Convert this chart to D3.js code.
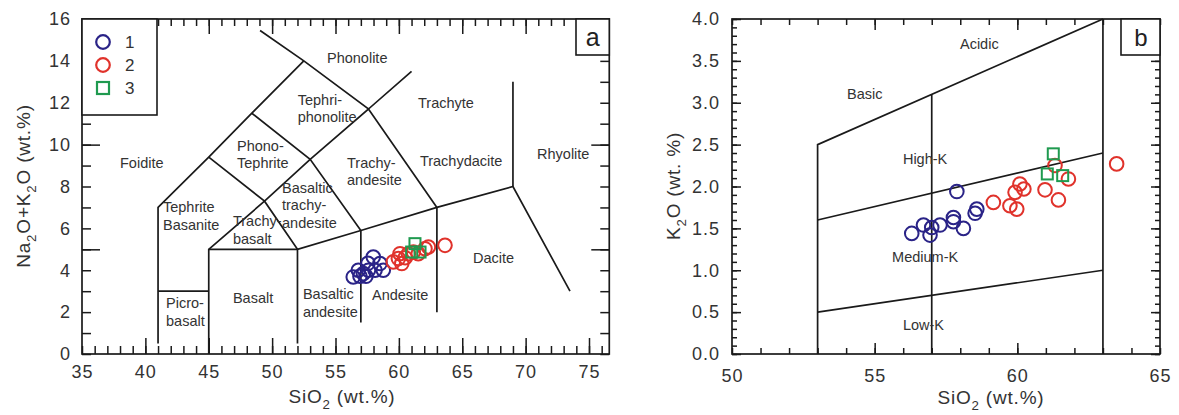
<!DOCTYPE html>
<html>
<head>
<meta charset="utf-8">
<script src="https://cdn.jsdelivr.net/npm/d3@7"></script>
<style>
  body { margin: 0; background: #fff; }
  svg { display: block; font-family: "Liberation Sans", Arial, sans-serif; }
</style>
</head>
<body>
<svg id="chart" width="1179" height="415"></svg>
<script>
// ---- data ----
// panel a: TAS (SiO2 vs Na2O+K2O)
const siA1 = [56.4, 56.8, 56.93, 57.2, 57.4, 57.56, 57.6, 57.98, 58.12, 58.51, 58.77];
const alkA1 = [3.68, 4.0, 3.71, 3.84, 3.71, 4.33, 4.0, 4.63, 4.0, 4.32, 4.0];
const siA2 = [59.56, 59.96, 60.09, 60.23, 60.5, 60.75, 61.14, 61.53, 62.06, 62.33, 63.64];
const alkA2 = [4.4, 4.56, 4.79, 4.32, 4.6, 4.79, 4.87, 4.79, 5.03, 5.11, 5.19];
const siA3 = [61.27, 61.01, 61.67];
const alkA3 = [5.27, 4.87, 4.87];

// panel b: SiO2 vs K2O
const siB1 = [56.3, 56.71, 56.94, 57.0, 57.29, 57.76, 57.76, 58.11, 57.88, 58.52, 58.58];
const kB1 = [1.44, 1.54, 1.42, 1.51, 1.54, 1.63, 1.58, 1.5, 1.94, 1.68, 1.73];
const siB2 = [59.16, 59.74, 59.98, 59.92, 60.09, 60.23, 60.97, 61.32, 61.44, 61.79, 63.48];
const kB2 = [1.81, 1.77, 1.73, 1.93, 2.03, 1.97, 1.96, 2.25, 1.84, 2.09, 2.27];
const siB3 = [61.26, 61.05, 61.59];
const kB3 = [2.39, 2.15, 2.13];

// TAS field boundaries (Le Bas et al.)
const tasLines = [
  [[41, 0.5], [41, 7], [45, 9.4], [48.4, 11.5], [52.5, 14]],
  [[49.05, 15.45], [52.5, 14], [57.6, 11.7], [61, 13.5]],
  [[41, 3], [45, 3]],
  [[45, 0], [45, 5], [49.4, 7.3], [53, 9.3], [57.6, 11.7], [63, 7]],
  [[45, 5], [52, 5], [57, 5.9], [63, 7], [69, 8], [73.5, 3]],
  [[52, 0.5], [52, 5], [49.4, 7.3], [45, 9.4]],
  [[48.4, 11.5], [53, 9.3], [57, 5.9], [57, 1.5]],
  [[63, 2], [63, 7]],
  [[69, 8], [69, 13]]
];
const tasNames = [
  ["Foidite"], ["Phonolite"], ["Tephri-", "phonolite"], ["Phono-", "Tephrite"],
  ["Trachyte"], ["Trachy-", "andesite"], ["Trachydacite"], ["Rhyolite"],
  ["Basaltic", "trachy-", "andesite"], ["Tephrite", "Basanite"], ["Trachy-", "basalt"],
  ["Picro-", "basalt"], ["Basalt"], ["Basaltic", "andesite"], ["Andesite"], ["Dacite"]
];
const tasNameX = [38.0, 54.33, 52.02, 47.23, 61.51, 55.91, 61.66, 70.9, 50.78, 41.39, 46.91, 41.63, 46.91, 52.43, 57.88, 65.85];
const tasNameY = [8.9, 13.9, 11.9, 9.71, 11.76, 8.9, 9.0, 9.33, 7.71, 6.76, 6.1, 2.19, 2.43, 2.62, 2.57, 4.33];

// K2O series boundaries (Peccerillo & Taylor)
const kLines = [
  [[53, 0], [53, 2.5], [63, 4]],
  [[57, 0], [57, 3.1]],
  [[63, 0], [63, 4]],
  [[53, 1.6], [63, 2.4]],
  [[53, 0.5], [63, 1.0]]
];
const kNames = ["Basic", "Acidic", "High-K", "Medium-K", "Low-K"];
const kNameX = [54.03, 57.99, 55.99, 55.61, 55.99];
const kNameY = [3.05, 3.64, 2.27, 1.1, 0.29];

const groupNames = ["1", "2", "3"];
const colors = ["#2a2387", "#e0322b", "#1f9a4f"];

const svg = d3.select("#chart");
svg.append("rect").attr("width", 1179).attr("height", 415).attr("fill", "#fff");

const ink = "#1a1a1a";
const txt = "#333";

// ---- scales ----
const xa = d3.scaleLinear().domain([35, 75]).range([82, 589]);
const ya = d3.scaleLinear().domain([0, 16]).range([354, 19]);
const xb = d3.scaleLinear().domain([50, 65]).range([732, 1160]);
const yb = d3.scaleLinear().domain([0, 4]).range([354, 19]);
const xaMax = 76.6;

const line = (sx, sy) => d3.line().x(d => sx(d[0])).y(d => sy(d[1]));

function ticks(sel, axisFn, scale, pos, vals, size, labels, pad, fmt) {
  const ax = axisFn(scale).tickValues(vals).tickSize(size).tickPadding(pad || 0);
  ax.tickFormat(labels ? (fmt || d3.format("d")) : "");
  const g = sel.append("g").attr("transform", pos).call(ax);
  g.select(".domain").remove();
  g.selectAll("line").attr("stroke", ink).attr("stroke-width", 1.5);
  g.selectAll("text").attr("fill", txt).attr("font-size", 18)
    .attr("font-family", "Liberation Sans, Arial, sans-serif")
    .style("letter-spacing", "1px");
  return g;
}

function subText(sel, parts, size) {
  // parts: [text, isSub]
  parts.forEach(p => {
    if (p[1]) {
      sel.append("tspan").attr("font-size", size * 0.7).attr("dy", size * 0.3).text(p[0]);
    } else {
      sel.append("tspan").attr("dy", sel.selectAll("tspan").size() > 0 ? -size * 0.3 : 0).text(p[0]);
    }
  });
}

function names(g, sx, sy, lbls, xs, ys) {
  lbls.forEach((ln, i) => {
    const t = g.append("text").attr("x", sx(xs[i])).attr("y", sy(ys[i]))
      .attr("font-size", 14.5).attr("fill", txt).attr("dy", "0.35em");
    ln.forEach((s, j) => t.append("tspan").attr("x", sx(xs[i])).attr("dy", j ? 17.5 : 0).text(s));
  });
}

function marks(g, sx, sy, xs, ys, k) {
  xs.forEach((v, i) => {
    if (k < 2) {
      g.append("circle").attr("cx", sx(v)).attr("cy", sy(ys[i])).attr("r", 6.8)
        .attr("fill", "none").attr("stroke", colors[k]).attr("stroke-width", 2);
    } else {
      g.append("rect").attr("x", sx(v) - 5.5).attr("y", sy(ys[i]) - 5.5)
        .attr("width", 11).attr("height", 11)
        .attr("fill", "none").attr("stroke", colors[k]).attr("stroke-width", 2);
    }
  });
}

// =========== panel a ===========
const ga = svg.append("g");
const aL = 82, aR = xa(xaMax), aT = 19, aB = 354;

// ticks
const xr = d3.range(35, 77);
const yr = d3.range(0, 17);
ticks(ga, d3.axisBottom, xa, `translate(0,${aB})`, xr, -8);
ticks(ga, d3.axisBottom, xa, `translate(0,${aB})`, [40, 45, 50, 55, 60, 65, 70, 75], -16);
ticks(ga, d3.axisBottom, xa, `translate(0,${aB})`, d3.range(35, 76, 5), 0, true, 11);
ticks(ga, d3.axisTop, xa, `translate(0,${aT})`, xr, -7);
ticks(ga, d3.axisTop, xa, `translate(0,${aT})`, d3.range(40, 76, 5), -15);
ticks(ga, d3.axisLeft, ya, `translate(${aL},0)`, yr, -9);
ticks(ga, d3.axisLeft, ya, `translate(${aL},0)`, [5, 10, 15], -18);
ticks(ga, d3.axisLeft, ya, `translate(${aL},0)`, d3.range(0, 17, 2), 0, true, 11);
ticks(ga, d3.axisRight, ya, `translate(${aR},0)`, yr, -9);
ticks(ga, d3.axisRight, ya, `translate(${aR},0)`, [5, 10, 15], -18);

ga.append("rect").attr("x", aL).attr("y", aT).attr("width", aR - aL).attr("height", aB - aT)
  .attr("fill", "none").attr("stroke", ink).attr("stroke-width", 1.7);

ga.selectAll("path.bound").data(tasLines).join("path").attr("class", "bound")
  .attr("d", line(xa, ya)).attr("fill", "none").attr("stroke", ink).attr("stroke-width", 1.7);

names(ga, xa, ya, tasNames, tasNameX, tasNameY);

marks(ga, xa, ya, siA1, alkA1, 0);
marks(ga, xa, ya, siA2, alkA2, 1);
marks(ga, xa, ya, siA3, alkA3, 2);

// legend
const lg = ga.append("g");
lg.append("rect").attr("x", aL).attr("y", aT).attr("width", 75).attr("height", 96)
  .attr("fill", "#fff").attr("stroke", ink).attr("stroke-width", 1.6);
groupNames.forEach((n, i) => {
  const cy = 42 + i * 23;
  if (i < 2) {
    lg.append("circle").attr("cx", 103).attr("cy", cy).attr("r", 6.8)
      .attr("fill", "none").attr("stroke", colors[i]).attr("stroke-width", 2.2);
  } else {
    lg.append("rect").attr("x", 97).attr("y", cy - 6).attr("width", 12).attr("height", 12)
      .attr("fill", "none").attr("stroke", colors[i]).attr("stroke-width", 2.2);
  }
  lg.append("text").attr("x", 125).attr("y", cy).attr("dy", "0.36em")
    .attr("font-size", 17).attr("fill", txt).text(n);
});

// panel letter
ga.append("rect").attr("x", 576).attr("y", aT).attr("width", aR - 576).attr("height", 36)
  .attr("fill", "#fff").attr("stroke", ink).attr("stroke-width", 1.6);
ga.append("text").attr("x", (576 + aR) / 2).attr("y", 46).attr("text-anchor", "middle")
  .attr("font-size", 25).attr("fill", "#222").text("a");

// axis titles
const ta = ga.append("text").attr("x", 342).attr("y", 409).attr("text-anchor", "middle")
  .attr("font-size", 19).attr("fill", txt).style("letter-spacing", "0.8px");
subText(ta, [["SiO"], ["2", true], [" (wt.%)"]], 19);
const tya = ga.append("text").attr("transform", "translate(36,186) rotate(-90)")
  .attr("text-anchor", "middle").attr("font-size", 19).attr("fill", txt).style("letter-spacing", "0.8px");
subText(tya, [["Na"], ["2", true], ["O+K"], ["2", true], ["O (wt.%)"]], 19);

// =========== panel b ===========
const gb = svg.append("g");
const bL = 732, bR = 1160, bT = 19, bB = 354;

const xbr = d3.range(50, 66);
const ybr = d3.range(0, 41).map(d => d / 10);
const fmt1 = d3.format(".1f");
ticks(gb, d3.axisBottom, xb, `translate(0,${bB})`, xbr, -6);
ticks(gb, d3.axisBottom, xb, `translate(0,${bB})`, [55, 60], -11);
ticks(gb, d3.axisBottom, xb, `translate(0,${bB})`, [50, 55, 60, 65], 0, true, 15);
ticks(gb, d3.axisTop, xb, `translate(0,${bT})`, xbr, -6);
ticks(gb, d3.axisTop, xb, `translate(0,${bT})`, [55, 60], -11);
ticks(gb, d3.axisLeft, yb, `translate(${bL},0)`, ybr, -5);
ticks(gb, d3.axisLeft, yb, `translate(${bL},0)`, d3.range(0, 9).map(d => d / 2), -9);
ticks(gb, d3.axisLeft, yb, `translate(${bL},0)`, d3.range(0, 9).map(d => d / 2), 0, true, 12, fmt1);
ticks(gb, d3.axisRight, yb, `translate(${bR},0)`, ybr, -5);
ticks(gb, d3.axisRight, yb, `translate(${bR},0)`, d3.range(0, 9).map(d => d / 2), -9);

gb.append("rect").attr("x", bL).attr("y", bT).attr("width", bR - bL).attr("height", bB - bT)
  .attr("fill", "none").attr("stroke", ink).attr("stroke-width", 1.7);

gb.selectAll("path.bound").data(kLines).join("path").attr("class", "bound")
  .attr("d", line(xb, yb)).attr("fill", "none").attr("stroke", ink).attr("stroke-width", 1.7);

names(gb, xb, yb, kNames.map(d => [d]), kNameX, kNameY);

marks(gb, xb, yb, siB1, kB1, 0);
marks(gb, xb, yb, siB2, kB2, 1);
marks(gb, xb, yb, siB3, kB3, 2);

gb.append("rect").attr("x", 1121).attr("y", bT).attr("width", bR - 1121).attr("height", 36)
  .attr("fill", "#fff").attr("stroke", ink).attr("stroke-width", 1.6);
gb.append("text").attr("x", 1141).attr("y", 46).attr("text-anchor", "middle")
  .attr("font-size", 24).attr("fill", "#222").text("b");

const tb = gb.append("text").attr("x", 991).attr("y", 410).attr("text-anchor", "middle")
  .attr("font-size", 19).attr("fill", txt).style("letter-spacing", "0.8px");
subText(tb, [["SiO"], ["2", true], [" (wt.%)"]], 19);
const tyb = gb.append("text").attr("transform", "translate(686,186) rotate(-90)")
  .attr("text-anchor", "middle").attr("font-size", 19).attr("fill", txt).style("letter-spacing", "0.8px");
subText(tyb, [["K"], ["2", true], ["O (wt. %)"]], 19);
</script>
</body>
</html>
